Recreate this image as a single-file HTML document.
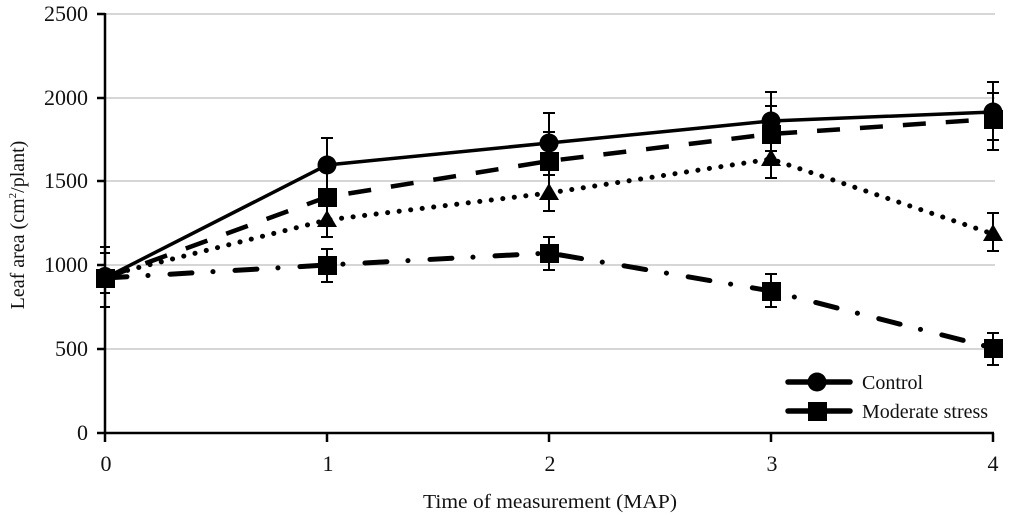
<!DOCTYPE html>
<html><head><meta charset="utf-8"><style>
html,body{margin:0;padding:0;background:#fff;}
svg{display:block;}
text{font-family:"Liberation Serif",serif;fill:#111;}
</style></head><body>
<svg width="1011" height="515" viewBox="0 0 1011 515" xmlns="http://www.w3.org/2000/svg">
<!-- gridlines -->
<g stroke="#c8c8c8" stroke-width="1.5">
<line x1="105" y1="14" x2="995" y2="14"/>
<line x1="105" y1="98" x2="995" y2="98"/>
<line x1="105" y1="181" x2="995" y2="181"/>
<line x1="105" y1="265" x2="995" y2="265"/>
<line x1="105" y1="349" x2="995" y2="349"/>
</g>
<!-- axes -->
<g stroke="#000" stroke-width="2.5">
<line x1="105" y1="13" x2="105" y2="434"/>
<line x1="104" y1="433" x2="994" y2="433"/>
<line x1="97" y1="14" x2="105" y2="14"/>
<line x1="97" y1="98" x2="105" y2="98"/>
<line x1="97" y1="181" x2="105" y2="181"/>
<line x1="97" y1="265" x2="105" y2="265"/>
<line x1="97" y1="349" x2="105" y2="349"/>
<line x1="97" y1="433" x2="105" y2="433"/>
<line x1="105" y1="433" x2="105" y2="442"/>
<line x1="327" y1="433" x2="327" y2="442"/>
<line x1="549" y1="433" x2="549" y2="442"/>
<line x1="771" y1="433" x2="771" y2="442"/>
<line x1="993" y1="433" x2="993" y2="442"/>
</g>
<!-- y tick labels -->
<g font-size="22" text-anchor="end">
<text x="88" y="21">2500</text>
<text x="88" y="105">2000</text>
<text x="88" y="188">1500</text>
<text x="88" y="272">1000</text>
<text x="88" y="356">500</text>
<text x="88" y="440">0</text>
</g>
<g font-size="22" text-anchor="middle">
<text x="106" y="471">0</text>
<text x="328" y="471">1</text>
<text x="550" y="471">2</text>
<text x="772" y="471">3</text>
<text x="993" y="471">4</text>
</g>
<text x="423" y="508" font-size="20" textLength="254" lengthAdjust="spacingAndGlyphs">Time of measurement (MAP)</text>
<text transform="translate(24,225) rotate(-90)" font-size="20" text-anchor="middle">Leaf area (cm<tspan font-size="11" dy="-8">2</tspan><tspan dy="8">/plant)</tspan></text>

<!-- error bars -->
<g stroke="#000" stroke-width="2">
<line x1="105" y1="246" x2="105" y2="308"/>
<line x1="100" y1="247" x2="110" y2="247"/>
<line x1="100" y1="253" x2="110" y2="253"/>
<line x1="100" y1="293" x2="110" y2="293"/>
<line x1="100" y1="307" x2="110" y2="307"/>
<line x1="327" y1="138" x2="327" y2="237"/>
<line x1="321" y1="138" x2="333" y2="138"/>
<line x1="321" y1="237" x2="333" y2="237"/>
<line x1="327" y1="249" x2="327" y2="282"/>
<line x1="321" y1="249" x2="333" y2="249"/>
<line x1="321" y1="282" x2="333" y2="282"/>
<line x1="549" y1="113" x2="549" y2="211"/>
<line x1="543" y1="113" x2="555" y2="113"/>
<line x1="543" y1="132" x2="555" y2="132"/>
<line x1="543" y1="175" x2="555" y2="175"/>
<line x1="543" y1="211" x2="555" y2="211"/>
<line x1="549" y1="237" x2="549" y2="270"/>
<line x1="543" y1="237" x2="555" y2="237"/>
<line x1="543" y1="270" x2="555" y2="270"/>
<line x1="771" y1="92" x2="771" y2="178"/>
<line x1="765" y1="92" x2="777" y2="92"/>
<line x1="765" y1="106" x2="777" y2="106"/>
<line x1="765" y1="151" x2="777" y2="151"/>
<line x1="765" y1="178" x2="777" y2="178"/>
<line x1="771" y1="274" x2="771" y2="307"/>
<line x1="765" y1="274" x2="777" y2="274"/>
<line x1="765" y1="307" x2="777" y2="307"/>
<line x1="993" y1="82" x2="993" y2="150"/>
<line x1="987" y1="82" x2="999" y2="82"/>
<line x1="987" y1="93" x2="999" y2="93"/>
<line x1="987" y1="140" x2="999" y2="140"/>
<line x1="987" y1="150" x2="999" y2="150"/>
<line x1="993" y1="213" x2="993" y2="251"/>
<line x1="987" y1="213" x2="999" y2="213"/>
<line x1="987" y1="251" x2="999" y2="251"/>
<line x1="993" y1="333" x2="993" y2="365"/>
<line x1="987" y1="333" x2="999" y2="333"/>
<line x1="987" y1="365" x2="999" y2="365"/>
</g>

<!-- series lines -->
<g fill="none" stroke="#000">
<polyline points="105,278 327,165 549,143 771,121 993,112" stroke-width="3.5"/>
<polyline points="105,278 327,197 549,161 771,134 993,119" stroke-width="4.5" stroke-dasharray="23 20"/>
<polyline points="105,276 327,220 549,193 771,159 993,234" stroke-width="5" stroke-dasharray="0.1 11.5" stroke-linecap="round"/>
<polyline points="105,278 327,265 549,253 771,291 993,348" stroke-width="5" stroke-dasharray="22 21 0.1 22" stroke-linecap="round"/>
</g>

<!-- markers -->
<g fill="#000">
<rect x="96" y="269" width="19" height="19"/>
<rect x="318" y="256" width="19" height="19"/>
<rect x="540" y="244" width="19" height="19"/>
<rect x="762" y="282" width="19" height="19"/>
<rect x="984" y="339" width="19" height="19"/>
<polygon points="327,210 337,227 317,227"/>
<polygon points="549,183 559,200 539,200"/>
<polygon points="771,149 781,166 761,166"/>
<polygon points="993,224 1003,241 983,241"/>
<rect x="318" y="188" width="19" height="19"/>
<rect x="540" y="152" width="19" height="19"/>
<rect x="762" y="125" width="19" height="19"/>
<rect x="984" y="110" width="19" height="19"/>
<circle cx="105" cy="276" r="9"/>
<circle cx="327" cy="165" r="9.5"/>
<circle cx="549" cy="143" r="9.5"/>
<circle cx="771" cy="121" r="9.5"/>
<circle cx="993" cy="112" r="9.5"/>
</g>

<!-- legend -->
<g stroke="#000" stroke-width="5.5" stroke-linecap="round">
<line x1="788" y1="382" x2="850" y2="382"/>
<line x1="788" y1="411" x2="850" y2="411"/>
</g>
<circle cx="817" cy="382" r="9.5" fill="#000"/>
<rect x="808" y="402" width="19" height="19" fill="#000"/>
<g font-size="20">
<text x="862" y="389">Control</text>
<text x="862" y="418">Moderate stress</text>
</g>
</svg>
</body></html>
